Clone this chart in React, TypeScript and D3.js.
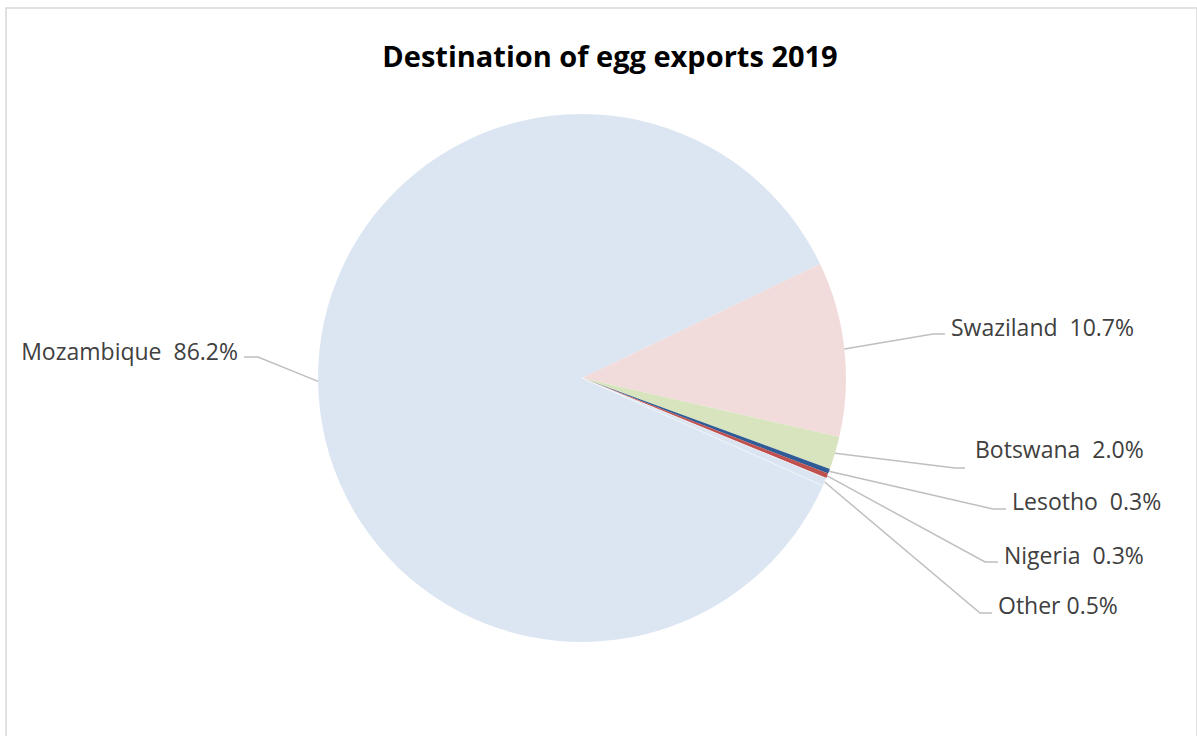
import React from "react";
import * as d3 from "d3";

const categories = ["Mozambique", "Swaziland", "Botswana", "Lesotho", "Nigeria", "Other"];
const shares = [86.2, 10.7, 2.0, 0.3, 0.3, 0.5];
const labelTexts = ["Mozambique  86.2%", "Swaziland  10.7%", "Botswana  2.0%", "Lesotho  0.3%", "Nigeria  0.3%", "Other 0.5%"];
const colors = ["#dce6f2", "#f2dcdb", "#d7e4bd", "#2f5c96", "#c0504d", "#dbe5f1"];

// label layout: elbow x, line y, line end x, text x, text center y, anchor
const layout = [
  { ex: 258, ly: 357, lx: 244, tx: 238, ty: 351, anchor: "end" },
  { ex: 933, ly: 334, lx: 945, tx: 951, ty: 327, anchor: "start" },
  { ex: 955, ly: 468, lx: 965, tx: 975, ty: 449, anchor: "start" },
  { ex: 993, ly: 509, lx: 1006, tx: 1012, ty: 501, anchor: "start" },
  { ex: 985, ly: 562, lx: 998, tx: 1004, ty: 555, anchor: "start" },
  { ex: 980, ly: 613, lx: 992, tx: 998, ty: 605, anchor: "start" },
];

export default function App() {
  const W = 1197, H = 736;
  const cx = 582, cy = 378, r = 264;
  const start = (114.1 * Math.PI) / 180;
  const pie = d3.pie<number>().sort(null).value((d) => d).startAngle(start).endAngle(start + 2 * Math.PI);
  const arcs = pie(shares);
  const arc = d3.arc<d3.PieArcDatum<number>>().innerRadius(0).outerRadius(r);

  return (
    <svg width={W} height={H} style={{ position: "absolute", left: 0, top: 0, display: "block", background: "#fff" }}>
      <rect x={6} y={8} width={W - 6} height={H} fill="#fff" stroke="#d9d9d9" strokeWidth={1.5} />
      <text x={610} y={55} textAnchor="middle" dominantBaseline="central" fontFamily="'Open Sans', sans-serif" fontWeight={700} fontSize={29} fill="#000">
        Destination of egg exports 2019
      </text>
      <g transform={`translate(${cx},${cy})`}>
        {arcs.map((a, i) => (
          <path key={categories[i]} d={arc(a) || ""} fill={colors[i]} stroke={i === 5 ? "#ffffff" : "none"} strokeWidth={0.5} />
        ))}
      </g>
      {arcs.map((a, i) => {
        const mid = (a.startAngle + a.endAngle) / 2;
        const px = cx + r * Math.sin(mid);
        const py = cy - r * Math.cos(mid);
        const L = layout[i];
        return (
          <g key={"l" + categories[i]}>
            <polyline points={`${px},${py} ${L.ex},${L.ly} ${L.lx},${L.ly}`} fill="none" stroke="#bfbfbf" strokeWidth={1.5} />
            <text x={L.tx} y={L.ty} textAnchor={L.anchor as any} dominantBaseline="central" fontFamily="'Open Sans', sans-serif" fontSize={23} fill="#404040" style={{ whiteSpace: "pre" }}>
              {labelTexts[i]}
            </text>
          </g>
        );
      })}
    </svg>
  );
}
